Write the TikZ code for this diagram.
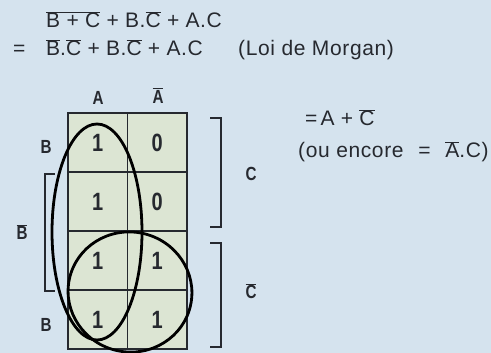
\documentclass[tikz,border=0pt]{standalone}
\usepackage{fontspec}
\setmainfont[LetterSpace=3]{Liberation Sans}
\newfontfamily\lblfont{Liberation Sans}
\definecolor{bgc}{HTML}{D5E3EE}
\definecolor{gridc}{HTML}{DCE5D3}
\definecolor{linec}{HTML}{26292F}
\newcommand{\ol}[1]{$\overline{\hbox{#1}}$}
\newcommand{\cb}[1]{\scalebox{0.8}[1]{\lblfont\bfseries #1}}
\newcommand{\pl}{\hspace{0.3em}+\hspace{0.3em}}
\begin{document}
\begin{tikzpicture}[x=1pt,y=-1pt,
  cell/.style={draw=linec, line width=1.4pt, fill=gridc, minimum width=59.5pt, minimum height=59pt, inner sep=0pt, font=\fontsize{25}{25}\selectfont, text=linec},
  lbl/.style={font=\fontsize{19}{19}\selectfont, text=linec, inner sep=0pt},
  eq/.style={font=\fontsize{21}{23}\selectfont, text=linec, inner sep=0pt, anchor=base west},
  brk/.style={draw=linec, line width=1.3pt},
  loop/.style={draw=black, line width=2.8pt}]
\fill[bgc] (0,0) rectangle (491,353);
\useasboundingbox (0,0) rectangle (491,353);
% equations
\node[eq] (l1) at (46,28) {\ol{B\pl C}\pl B.\ol{C}\pl A.C};
\node[eq] (eqs) at (13,56) {=};
\node[eq] (l2) at (46,56) {\ol{B}.\ol{C}\pl B.\ol{C}\pl A.C};
\node[eq] (lm) at (238,56) {(Loi de Morgan)};
\node[eq] (r1) at (305,126) {=\hspace{0.15em}A\pl\ol{C}};
\node[eq] (r2) at (298,158) {(ou encore\hspace{0.7em}=\hspace{0.7em}\ol{A}.C)};
% grid
\node[cell] (c11) at (97.75,142.5) {\cb{1}};
\node[cell] (c12) at (157.25,142.5) {\cb{0}};
\node[cell] (c21) at (97.75,201.5) {\cb{1}};
\node[cell] (c22) at (157.25,201.5) {\cb{0}};
\node[cell] (c31) at (97.75,260.5) {\cb{1}};
\node[cell] (c32) at (157.25,260.5) {\cb{1}};
\node[cell] (c41) at (97.75,319.5) {\cb{1}};
\node[cell] (c42) at (157.25,319.5) {\cb{1}};
% labels
\node[lbl] (la) at (98,97.5) {\cb{A}};
\node[lbl] (lna) at (158,95.5) {\cb{\ol{A}}};
\node[lbl] (lb1) at (46,147) {\cb{B}};
\node[lbl] (lnb) at (22,232) {\cb{\ol{B}}};
\node[lbl] (lb2) at (46,325) {\cb{B}};
\node[lbl] (lc) at (251,174) {\cb{C}};
\node[lbl] (lnc) at (251,291) {\cb{\ol{C}}};
% brackets
\draw[brk] (55,174) -- (45,174) -- (45,291) -- (55,291);
\draw[brk] (210,118) -- (221,118) -- (221,227) -- (210,227);
\draw[brk] (210,243) -- (221,243) -- (221,347) -- (210,347);
% loops
\draw[loop] (97,232) ellipse [x radius=45, y radius=108];
\draw[loop, rotate around={-12:(130,292)}] (130,292) ellipse [x radius=62, y radius=60];
\end{tikzpicture}
\end{document}
